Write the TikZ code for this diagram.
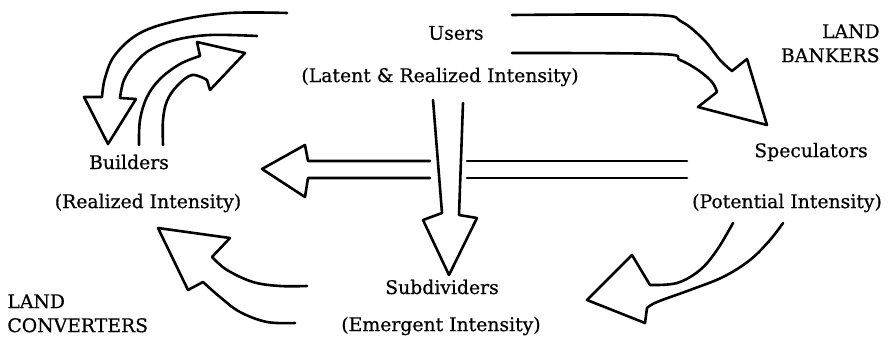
\documentclass[tikz,border=0pt]{standalone}
\usepackage{fontspec}
\setmainfont{DejaVu Serif}[FakeBold=0.6]
\begin{document}
\begin{tikzpicture}[x=0.5pt,y=-0.5pt,
  blk/.style={draw=black,line width=1.3pt,line join=round,line cap=round},
  lbl/.style={font=\fontsize{9.4}{11}\selectfont,inner sep=0pt},
  sm/.style={smooth,tension=0.6}]
\useasboundingbox (0,0) rectangle (892,342);

% actors and their intensities
\node[lbl] (users) at (456,33) {Users};
\node[lbl] (latent) at (440,77) {(Latent \& Realized Intensity)};
\node[lbl] (builders) at (129,162) {Builders};
\node[lbl] (realized) at (148,203) {(Realized Intensity)};
\node[lbl] (specs) at (811,152) {Speculators};
\node[lbl] (potential) at (787,203) {(Potential Intensity)};
\node[lbl] (subdiv) at (442,287) {Subdividers};
\node[lbl] (emergent) at (441,326) {(Emergent Intensity)};
\node[lbl,align=right,anchor=north east] (bankers) at (880,24) {LAND\\[1pt]BANKERS};
\node[lbl,align=left,anchor=north west] (converters) at (7,294) {LAND\\[1pt]CONVERTERS};

% users -> builders
\draw[blk] plot[sm] coordinates {(287,13) (230,13) (180,20) (140,33) (115,55) (105,78) (102,97)}
  -- (84,97) -- (108,144) -- (136,99)
  -- plot[sm] coordinates {(120,98) (124,80) (135,63) (150,50) (175,40) (210,35) (257,36)};

% builders -> users
\draw[blk] plot[sm] coordinates {(139,145) (140,120) (147,97) (160,79) (180,64) (200,56)}
  -- (197,42) -- (245,53) -- (210,90)
  -- plot[sm] coordinates {(207,80) (192,75) (177,86) (167,101) (163,120) (163,145)};

% users -> speculators
\draw[blk] plot[sm] coordinates {(512,15) (655,15) (682,22) (704,40) (720,60) (732,71)}
  -- (747,59) -- (767,125) -- (698,107)
  -- plot[sm] coordinates {(717,92) (712,82) (698,70) (680,60) (660,54) (512,53)};

% speculators -> builders (passes under the vertical arrow)
\draw[blk] (430,161) -- (308,161) -- (305,145) -- (262,169) -- (305,197) -- (308,178) -- (430,178);
\draw[blk] (467,161) -- (687,161);
\draw[blk] (467,178) -- (687,178);

% users -> subdividers
\draw[blk] (433,100) -- (442,213) -- (423,220) -- (449,275) -- (477,218) -- (459,215) -- (463,103);

% speculators -> subdividers
\draw[blk] plot[sm] coordinates {(783,223) (770,240) (750,260) (723,277) (690,290) (657,302) (647,308)}
  -- (645,323) -- (587,300) -- (632,255)
  -- plot[sm] coordinates {(650,285) (677,283) (700,270) (717,250) (733,223)};

% subdividers -> builders
\draw[blk] plot[sm] coordinates {(295,323) (267,322) (240,312) (220,297) (203,282)}
  -- (188,290) -- (158,228) -- (230,238)
  -- plot[sm] coordinates {(212,257) (227,270) (253,282) (280,286) (307,286)};
\end{tikzpicture}
\end{document}
